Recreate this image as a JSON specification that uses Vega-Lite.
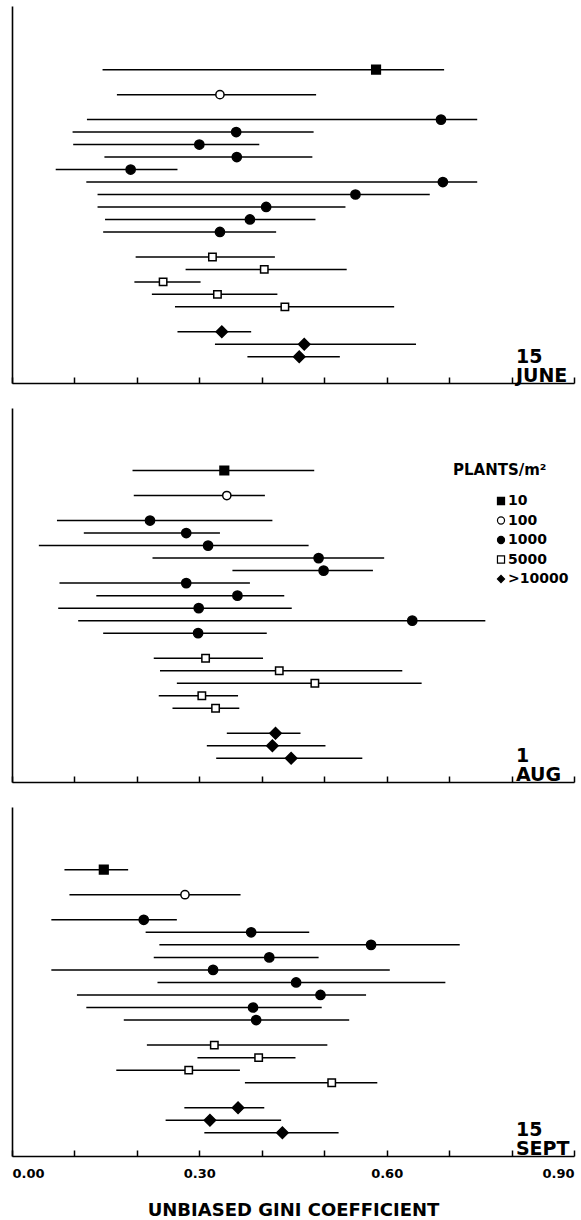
{
  "$schema": "https://vega.github.io/schema/vega-lite/v6.json",
  "padding": {"left": 11, "top": 6, "right": 7, "bottom": 0},
  "background": "white",
  "spacing": 22,
  "config": {
    "view": {"stroke": null},
    "font": "DejaVu Sans",
    "axis": {"domainColor": "black", "domainWidth": 1.6, "tickColor": "black", "tickWidth": 1.5, "grid": false, "labelFont": "DejaVu Sans", "labelFontWeight": "bold", "labelColor": "black", "titleColor": "black", "titleFont": "DejaVu Sans", "titleFontWeight": "bold"}
  },
  "datasets": {
    "gini": [
      {"panel": "jun", "row": 0, "density": "10", "lo": 0.145, "mid": 0.583, "hi": 0.692},
      {"panel": "jun", "row": 2, "density": "100", "lo": 0.168, "mid": 0.333, "hi": 0.487},
      {"panel": "jun", "row": 4, "density": "1000", "lo": 0.120, "mid": 0.687, "hi": 0.745},
      {"panel": "jun", "row": 5, "density": "1000", "lo": 0.097, "mid": 0.359, "hi": 0.483},
      {"panel": "jun", "row": 6, "density": "1000", "lo": 0.098, "mid": 0.300, "hi": 0.396},
      {"panel": "jun", "row": 7, "density": "1000", "lo": 0.148, "mid": 0.360, "hi": 0.481},
      {"panel": "jun", "row": 8, "density": "1000", "lo": 0.070, "mid": 0.190, "hi": 0.265},
      {"panel": "jun", "row": 9, "density": "1000", "lo": 0.119, "mid": 0.690, "hi": 0.745},
      {"panel": "jun", "row": 10, "density": "1000", "lo": 0.137, "mid": 0.550, "hi": 0.669},
      {"panel": "jun", "row": 11, "density": "1000", "lo": 0.137, "mid": 0.407, "hi": 0.534},
      {"panel": "jun", "row": 12, "density": "1000", "lo": 0.149, "mid": 0.381, "hi": 0.486},
      {"panel": "jun", "row": 13, "density": "1000", "lo": 0.146, "mid": 0.333, "hi": 0.423},
      {"panel": "jun", "row": 15, "density": "5000", "lo": 0.198, "mid": 0.321, "hi": 0.421},
      {"panel": "jun", "row": 16, "density": "5000", "lo": 0.278, "mid": 0.404, "hi": 0.536},
      {"panel": "jun", "row": 17, "density": "5000", "lo": 0.196, "mid": 0.242, "hi": 0.302},
      {"panel": "jun", "row": 18, "density": "5000", "lo": 0.224, "mid": 0.329, "hi": 0.425},
      {"panel": "jun", "row": 19, "density": "5000", "lo": 0.261, "mid": 0.437, "hi": 0.612},
      {"panel": "jun", "row": 21, "density": ">10000", "lo": 0.265, "mid": 0.336, "hi": 0.383},
      {"panel": "jun", "row": 22, "density": ">10000", "lo": 0.325, "mid": 0.468, "hi": 0.647},
      {"panel": "jun", "row": 23, "density": ">10000", "lo": 0.377, "mid": 0.460, "hi": 0.525},
      {"panel": "aug", "row": 0, "density": "10", "lo": 0.193, "mid": 0.340, "hi": 0.484},
      {"panel": "aug", "row": 2, "density": "100", "lo": 0.195, "mid": 0.344, "hi": 0.405},
      {"panel": "aug", "row": 4, "density": "1000", "lo": 0.072, "mid": 0.221, "hi": 0.417},
      {"panel": "aug", "row": 5, "density": "1000", "lo": 0.115, "mid": 0.279, "hi": 0.333},
      {"panel": "aug", "row": 6, "density": "1000", "lo": 0.043, "mid": 0.314, "hi": 0.475},
      {"panel": "aug", "row": 7, "density": "1000", "lo": 0.225, "mid": 0.491, "hi": 0.596},
      {"panel": "aug", "row": 8, "density": "1000", "lo": 0.353, "mid": 0.499, "hi": 0.578},
      {"panel": "aug", "row": 9, "density": "1000", "lo": 0.076, "mid": 0.279, "hi": 0.381},
      {"panel": "aug", "row": 10, "density": "1000", "lo": 0.135, "mid": 0.361, "hi": 0.436},
      {"panel": "aug", "row": 11, "density": "1000", "lo": 0.074, "mid": 0.299, "hi": 0.448},
      {"panel": "aug", "row": 12, "density": "1000", "lo": 0.106, "mid": 0.641, "hi": 0.758},
      {"panel": "aug", "row": 13, "density": "1000", "lo": 0.146, "mid": 0.298, "hi": 0.408},
      {"panel": "aug", "row": 15, "density": "5000", "lo": 0.227, "mid": 0.310, "hi": 0.402},
      {"panel": "aug", "row": 16, "density": "5000", "lo": 0.237, "mid": 0.428, "hi": 0.625},
      {"panel": "aug", "row": 17, "density": "5000", "lo": 0.264, "mid": 0.485, "hi": 0.656},
      {"panel": "aug", "row": 18, "density": "5000", "lo": 0.235, "mid": 0.304, "hi": 0.362},
      {"panel": "aug", "row": 19, "density": "5000", "lo": 0.257, "mid": 0.326, "hi": 0.364},
      {"panel": "aug", "row": 21, "density": ">10000", "lo": 0.344, "mid": 0.422, "hi": 0.462},
      {"panel": "aug", "row": 22, "density": ">10000", "lo": 0.312, "mid": 0.417, "hi": 0.502},
      {"panel": "aug", "row": 23, "density": ">10000", "lo": 0.327, "mid": 0.447, "hi": 0.561},
      {"panel": "sep", "row": 0, "density": "10", "lo": 0.084, "mid": 0.147, "hi": 0.186},
      {"panel": "sep", "row": 2, "density": "100", "lo": 0.092, "mid": 0.277, "hi": 0.366},
      {"panel": "sep", "row": 4, "density": "1000", "lo": 0.063, "mid": 0.211, "hi": 0.264},
      {"panel": "sep", "row": 5, "density": "1000", "lo": 0.214, "mid": 0.383, "hi": 0.476},
      {"panel": "sep", "row": 6, "density": "1000", "lo": 0.236, "mid": 0.575, "hi": 0.717},
      {"panel": "sep", "row": 7, "density": "1000", "lo": 0.227, "mid": 0.412, "hi": 0.491},
      {"panel": "sep", "row": 8, "density": "1000", "lo": 0.063, "mid": 0.322, "hi": 0.605},
      {"panel": "sep", "row": 9, "density": "1000", "lo": 0.233, "mid": 0.455, "hi": 0.694},
      {"panel": "sep", "row": 10, "density": "1000", "lo": 0.104, "mid": 0.494, "hi": 0.567},
      {"panel": "sep", "row": 11, "density": "1000", "lo": 0.119, "mid": 0.386, "hi": 0.496},
      {"panel": "sep", "row": 12, "density": "1000", "lo": 0.179, "mid": 0.391, "hi": 0.540},
      {"panel": "sep", "row": 14, "density": "5000", "lo": 0.216, "mid": 0.324, "hi": 0.505},
      {"panel": "sep", "row": 15, "density": "5000", "lo": 0.297, "mid": 0.395, "hi": 0.454},
      {"panel": "sep", "row": 16, "density": "5000", "lo": 0.167, "mid": 0.283, "hi": 0.365},
      {"panel": "sep", "row": 17, "density": "5000", "lo": 0.373, "mid": 0.512, "hi": 0.585},
      {"panel": "sep", "row": 19, "density": ">10000", "lo": 0.276, "mid": 0.362, "hi": 0.404},
      {"panel": "sep", "row": 20, "density": ">10000", "lo": 0.246, "mid": 0.317, "hi": 0.431},
      {"panel": "sep", "row": 21, "density": ">10000", "lo": 0.308, "mid": 0.433, "hi": 0.523}
    ],
    "labels": [
      {"panel": "jun", "label": "15\nJUNE"},
      {"panel": "aug", "label": "1\nAUG"},
      {"panel": "sep", "label": "15\nSEPT"}
    ]
  },
  "resolve": {"scale": {"x": "independent", "y": "independent"}, "legend": {"shape": "independent", "fill": "independent", "stroke": "independent"}},
  "vconcat": [
    {
      "width": 562, "height": 377,
      "layer": [
        {
          "data": {"name": "gini"},
          "transform": [{"filter": "datum.panel === 'jun'"}],
          "mark": {"type": "rule", "stroke": "black", "strokeWidth": 1.5},
          "encoding": {
            "x": {"field": "lo", "type": "quantitative", "scale": {"domain": [0, 0.9], "nice": false, "zero": false},
                  "axis": {"title": null, "labels": false, "values": [0, 0.1, 0.2, 0.3, 0.4, 0.5, 0.6, 0.7, 0.8, 0.9], "tickSize": -6}},
            "x2": {"field": "hi"},
            "y": {"field": "row", "type": "quantitative", "scale": {"domain": [-5.1, 25.1], "reverse": true, "nice": false, "zero": false},
                  "axis": {"title": null, "labels": false, "ticks": false, "grid": false}}
          }
        },
        {
          "data": {"name": "gini"},
          "transform": [{"filter": "datum.panel === 'jun'"}],
          "mark": {"type": "point", "filled": true, "strokeWidth": 1.5, "opacity": 1},
          "encoding": {
            "x": {"field": "mid", "type": "quantitative"},
            "y": {"field": "row", "type": "quantitative"},
            "shape": {"field": "density", "type": "nominal", "scale": {"domain": ["10", "100", "1000", "5000", ">10000"], "range": ["square", "circle", "circle", "square", "diamond"]}, "legend": null},
            "fill": {"field": "density", "type": "nominal", "scale": {"domain": ["10", "100", "1000", "5000", ">10000"], "range": ["black", "white", "black", "white", "black"]}, "legend": null},
            "stroke": {"field": "density", "type": "nominal", "scale": {"domain": ["10", "100", "1000", "5000", ">10000"], "range": ["black", "black", "black", "black", "black"]}, "legend": null},
            "size": {"condition": [{"test": "datum.density === '>10000'", "value": 130}, {"test": "datum.density === '10'", "value": 75}, {"test": "datum.density === '100'", "value": 68}, {"test": "datum.density === '5000'", "value": 55}], "value": 85}
          }
        },
        {
          "data": {"name": "labels"},
          "transform": [{"filter": "datum.panel === 'jun'"}],
          "mark": {"type": "text", "align": "left", "baseline": "alphabetic", "lineBreak": "\n", "fontSize": 19, "fontWeight": "bold", "font": "DejaVu Sans", "lineHeight": 19, "dy": -20, "color": "black"},
          "encoding": {
            "x": {"datum": 0.807, "type": "quantitative"},
            "y": {"datum": 25.1, "type": "quantitative"},
            "text": {"field": "label"}
          }
        }
      ]
    },
    {
      "width": 562, "height": 374,
      "layer": [
        {
          "data": {"name": "gini"},
          "transform": [{"filter": "datum.panel === 'aug'"}],
          "mark": {"type": "rule", "stroke": "black", "strokeWidth": 1.5},
          "encoding": {
            "x": {"field": "lo", "type": "quantitative", "scale": {"domain": [0, 0.9], "nice": false, "zero": false},
                  "axis": {"title": null, "labels": false, "values": [0, 0.1, 0.2, 0.3, 0.4, 0.5, 0.6, 0.7, 0.8, 0.9], "tickSize": -6}},
            "x2": {"field": "hi"},
            "y": {"field": "row", "type": "quantitative", "scale": {"domain": [-5, 24.9], "reverse": true, "nice": false, "zero": false},
                  "axis": {"title": null, "labels": false, "ticks": false, "grid": false}}
          }
        },
        {
          "data": {"name": "gini"},
          "transform": [{"filter": "datum.panel === 'aug'"}],
          "mark": {"type": "point", "filled": true, "strokeWidth": 1.5, "opacity": 1},
          "encoding": {
            "x": {"field": "mid", "type": "quantitative"},
            "y": {"field": "row", "type": "quantitative"},
            "shape": {"field": "density", "type": "nominal",
                      "legend": {"title": "PLANTS/m²", "orient": "none", "legendX": 441, "legendY": 55, "titleFontSize": 15, "titleFontWeight": "bold", "titleColor": "black", "titleFont": "DejaVu Sans", "labelFont": "DejaVu Sans", "labelFontSize": 14, "labelFontWeight": "bold", "labelColor": "black", "symbolSize": 50, "symbolStrokeWidth": 1.2, "rowPadding": 5.5, "titlePadding": 16, "symbolOffset": 41, "labelOffset": 0, "padding": 0}},
            "fill": {"field": "density", "type": "nominal",
                     "legend": {"title": "PLANTS/m²", "orient": "none", "legendX": 441, "legendY": 55, "titleFontSize": 15, "titleFontWeight": "bold", "titleColor": "black", "titleFont": "DejaVu Sans", "labelFont": "DejaVu Sans", "labelFontSize": 14, "labelFontWeight": "bold", "labelColor": "black", "symbolSize": 50, "symbolStrokeWidth": 1.2, "rowPadding": 5.5, "titlePadding": 16, "symbolOffset": 41, "labelOffset": 0, "padding": 0}},
            "stroke": {"field": "density", "type": "nominal",
                     "legend": {"title": "PLANTS/m²", "orient": "none", "legendX": 441, "legendY": 55, "titleFontSize": 15, "titleFontWeight": "bold", "titleColor": "black", "titleFont": "DejaVu Sans", "labelFont": "DejaVu Sans", "labelFontSize": 14, "labelFontWeight": "bold", "labelColor": "black", "symbolSize": 50, "symbolStrokeWidth": 1.2, "rowPadding": 5.5, "titlePadding": 16, "symbolOffset": 41, "labelOffset": 0, "padding": 0}},
            "size": {"condition": [{"test": "datum.density === '>10000'", "value": 130}, {"test": "datum.density === '10'", "value": 75}, {"test": "datum.density === '100'", "value": 68}, {"test": "datum.density === '5000'", "value": 55}], "value": 85}
          }
        },
        {
          "data": {"name": "labels"},
          "transform": [{"filter": "datum.panel === 'aug'"}],
          "mark": {"type": "text", "align": "left", "baseline": "alphabetic", "lineBreak": "\n", "fontSize": 19, "fontWeight": "bold", "font": "DejaVu Sans", "lineHeight": 19, "dy": -20, "color": "black"},
          "encoding": {
            "x": {"datum": 0.807, "type": "quantitative"},
            "y": {"datum": 24.9, "type": "quantitative"},
            "text": {"field": "label"}
          }
        }
      ]
    },
    {
      "width": 562, "height": 349,
      "layer": [
        {
          "data": {"name": "gini"},
          "transform": [{"filter": "datum.panel === 'sep'"}],
          "mark": {"type": "rule", "stroke": "black", "strokeWidth": 1.5},
          "encoding": {
            "x": {"field": "lo", "type": "quantitative", "scale": {"domain": [0, 0.9], "nice": false, "zero": false},
                  "axis": {"title": "UNBIASED GINI COEFFICIENT", "values": [0, 0.1, 0.2, 0.3, 0.4, 0.5, 0.6, 0.7, 0.8, 0.9], "tickSize": -6,
                           "labelExpr": "round(datum.value*10) % 3 === 0 ? format(datum.value, '.2f') : ''", "labelFlush": true, "labelFontSize": 13, "labelPadding": 17, "titleFontSize": 18, "titlePadding": 21}},
            "x2": {"field": "hi"},
            "y": {"field": "row", "type": "quantitative", "scale": {"domain": [-5, 22.85], "reverse": true, "nice": false, "zero": false},
                  "axis": {"title": null, "labels": false, "ticks": false, "grid": false}}
          }
        },
        {
          "data": {"name": "gini"},
          "transform": [{"filter": "datum.panel === 'sep'"}],
          "mark": {"type": "point", "filled": true, "strokeWidth": 1.5, "opacity": 1},
          "encoding": {
            "x": {"field": "mid", "type": "quantitative"},
            "y": {"field": "row", "type": "quantitative"},
            "shape": {"field": "density", "type": "nominal", "legend": null},
            "fill": {"field": "density", "type": "nominal", "legend": null},
            "stroke": {"field": "density", "type": "nominal", "legend": null},
            "size": {"condition": [{"test": "datum.density === '>10000'", "value": 130}, {"test": "datum.density === '10'", "value": 75}, {"test": "datum.density === '100'", "value": 68}, {"test": "datum.density === '5000'", "value": 55}], "value": 85}
          }
        },
        {
          "data": {"name": "labels"},
          "transform": [{"filter": "datum.panel === 'sep'"}],
          "mark": {"type": "text", "align": "left", "baseline": "alphabetic", "lineBreak": "\n", "fontSize": 19, "fontWeight": "bold", "font": "DejaVu Sans", "lineHeight": 19, "dy": -20, "color": "black"},
          "encoding": {
            "x": {"datum": 0.807, "type": "quantitative"},
            "y": {"datum": 22.85, "type": "quantitative"},
            "text": {"field": "label"}
          }
        }
      ]
    }
  ]
}
